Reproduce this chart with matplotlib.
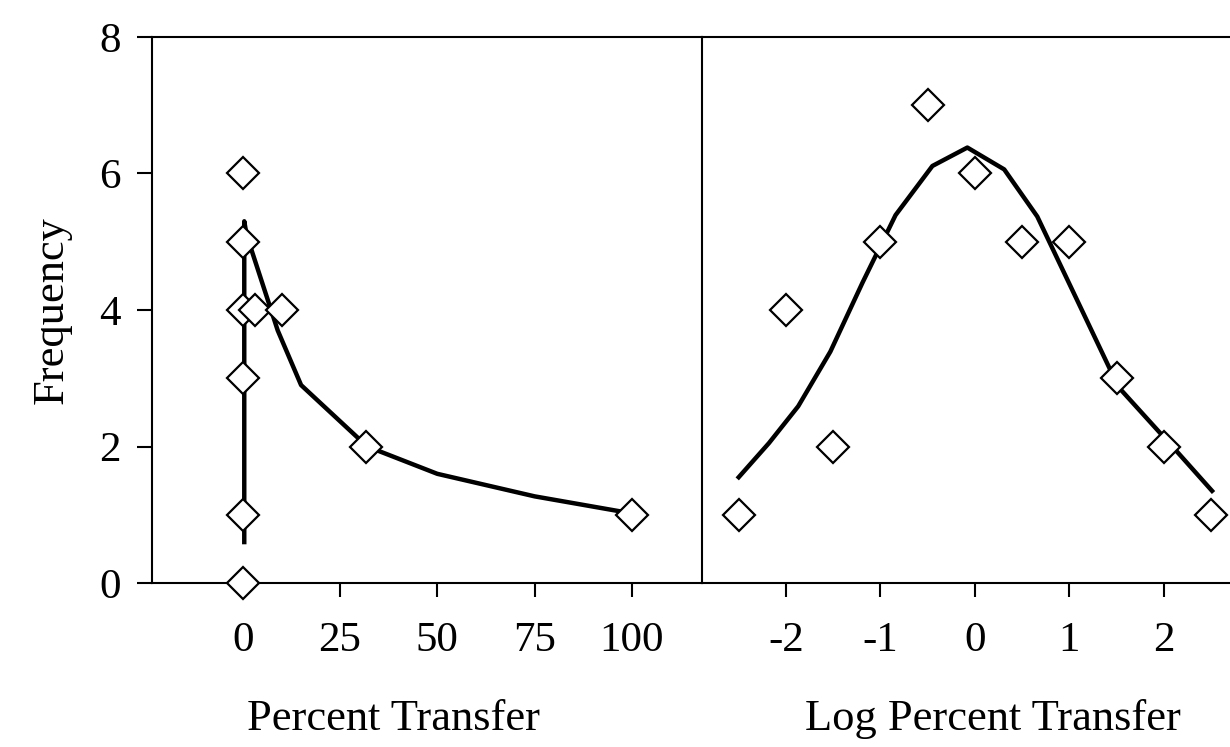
import matplotlib
matplotlib.use("Agg")
import matplotlib.pyplot as plt

plt.rcParams['font.family'] = ['Liberation Serif', 'DejaVu Serif']
plt.rcParams['axes.unicode_minus'] = False

# left panel: percent transfer
pct_x = [0, 0, 0, 0, 0, 0, 3.2, 10, 31.6, 100]
pct_freq = [0, 1, 3, 4, 5, 6, 4, 4, 2, 1]
pct_fit_x = [0.4, 0.4, 1, 5, 9, 15, 32, 50, 75, 100]
pct_fit_y = [0.6, 5.3, 5.1, 4.4, 3.7, 2.9, 2.0, 1.6, 1.27, 1.02]

# right panel: log percent transfer
log_x = [-2.5, -2, -1.5, -1, -0.5, 0, 0.5, 1, 1.5, 2, 2.5]
log_freq = [1, 4, 2, 5, 7, 6, 5, 5, 3, 2, 1]
log_fit_x = [-2.5, -2.18, -1.87, -1.53, -1.19, -0.84, -0.45, -0.08, 0.31,
             0.66, 1.08, 1.52, 2.11, 2.51]
log_fit_y = [1.55, 2.05, 2.59, 3.39, 4.40, 5.39, 6.11, 6.38, 6.06, 5.37,
             4.15, 2.87, 1.97, 1.35]

fig = plt.figure(figsize=(12.3, 7.47), dpi=100)
ax1 = fig.add_axes([0.1236, 0.2195, 0.4474, 0.731])
ax2 = fig.add_axes([0.571, 0.2195, 0.429, 0.731])
ax2.patch.set_visible(False)

mk = dict(marker='D', ms=16, mfc='white', mec='black', mew=1.6,
          linestyle='none', clip_on=False, zorder=3)

ax1.plot(pct_fit_x, pct_fit_y, color='black', lw=3.2, zorder=2)
ax1.plot(pct_x, pct_freq, **mk)
ax2.plot(log_fit_x, log_fit_y, color='black', lw=3.2, zorder=2)
ax2.plot(log_x, log_freq, **mk)

ax1.set_xlim(-23.3, 118.1)
ax1.set_xticks([0, 25, 50, 75, 100])
ax2.set_xlim(-2.885, 2.7)
ax2.set_xticks([-2, -1, 0, 1, 2])
for ax in (ax1, ax2):
    ax.set_ylim(0, 8)
    ax.set_yticks([0, 2, 4, 6, 8])
    for s in ax.spines.values():
        s.set_linewidth(1.5)
    ax.tick_params(axis='x', direction='out', length=10, width=1.5,
                   labelsize=31, pad=18)
    ax.tick_params(axis='y', direction='out', length=10.5, width=1.5,
                   labelsize=31, pad=12)

ax2.spines['right'].set_visible(False)
ax2.spines['left'].set_visible(False)
ax2.tick_params(axis='y', left=False, labelleft=False)

ax1.set_ylabel('Frequency', fontsize=32, labelpad=20)
ax1.set_xlabel('Percent Transfer', fontsize=32)
ax2.set_xlabel('Log Percent Transfer', fontsize=32)
ax1.xaxis.set_label_coords(0.438, -0.213)
ax2.xaxis.set_label_coords(0.551, -0.213)

fig.savefig('out.png', dpi=100)
